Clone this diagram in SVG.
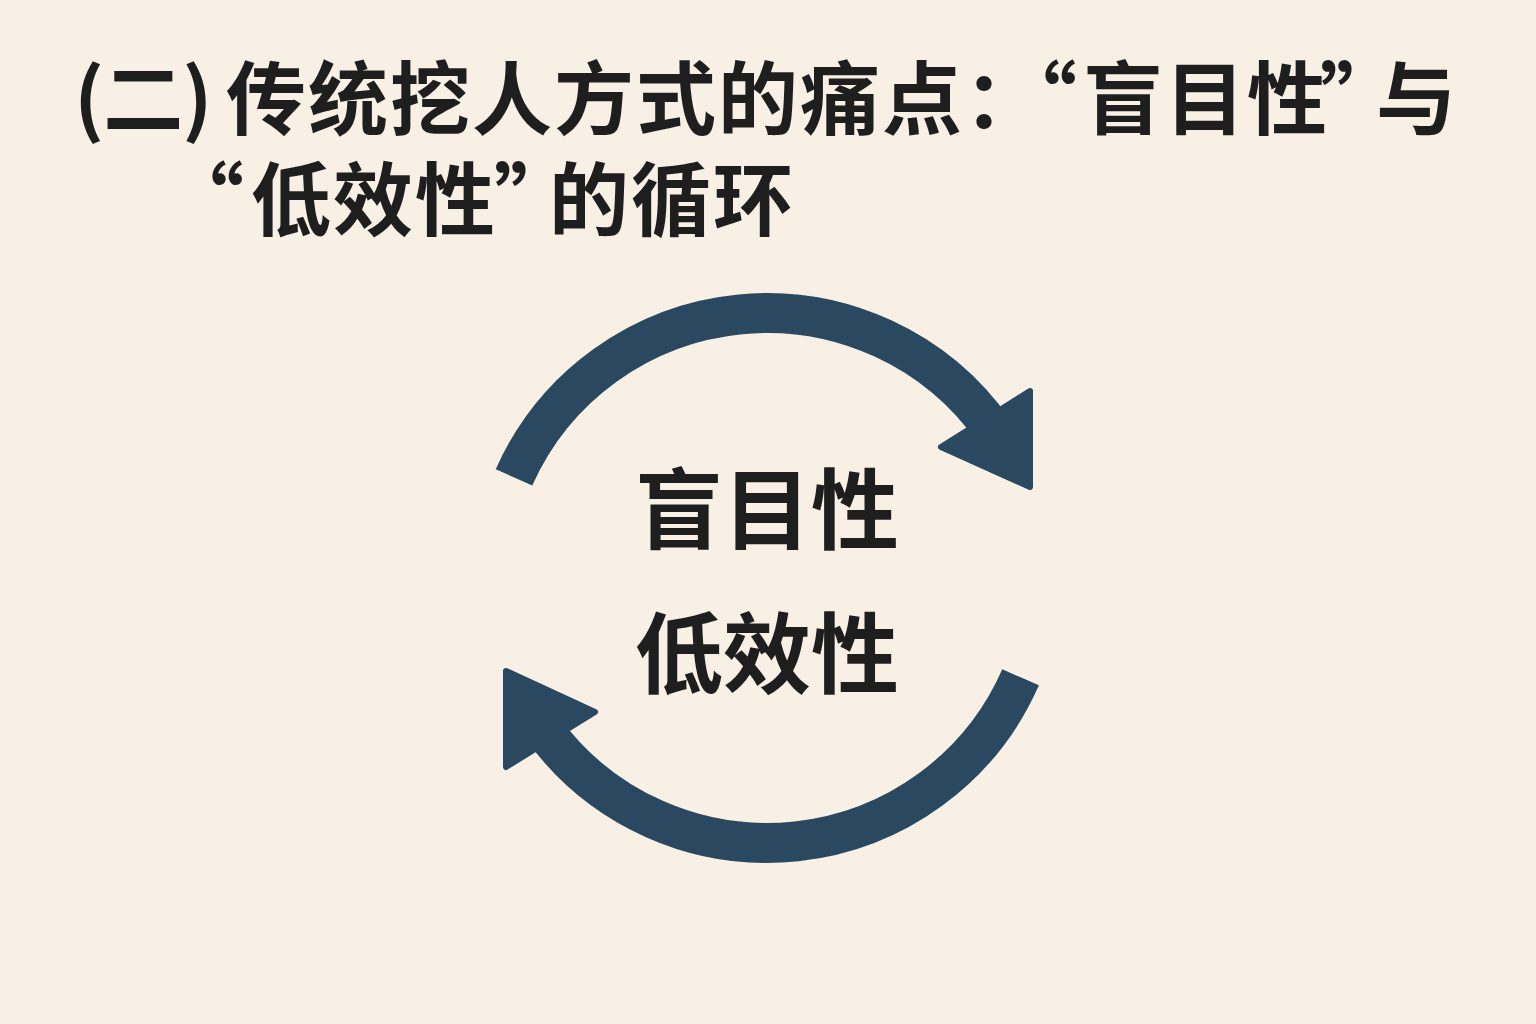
<svg xmlns="http://www.w3.org/2000/svg" width="1536" height="1024" viewBox="0 0 1536 1024">
<style>
.title{font-family:"Noto Sans CJK SC","Noto Sans",sans-serif;font-weight:700;font-size:80px;fill:#1e1e1e;letter-spacing:2px}
.label{font-family:"Noto Sans CJK SC","Noto Sans",sans-serif;font-weight:700;font-size:88px;fill:#1e1e1e;text-anchor:middle}
.arc{fill:none;stroke:#2b4861;stroke-width:40}
.head{fill:#2b4861;stroke:#2b4861;stroke-width:6;stroke-linejoin:round}
</style>
<rect width="1536" height="1024" fill="#f9f0e5"/>
<g id="title">
<text class="title" y="128"><tspan x="74" letter-spacing="-1">(二)</tspan><tspan x="226">传统挖人方式的痛点：</tspan><tspan x="997">“</tspan><tspan x="1083">盲目性</tspan><tspan x="1320">”</tspan><tspan x="1376">与</tspan></text>
<text class="title" y="229"><tspan x="164">“</tspan><tspan x="251">低效性</tspan><tspan x="494">”</tspan><tspan x="549">的循环</tspan></text>
</g>
<g id="connectors">
<path class="arc" d="M 514.0 477.3 A 277 277 0 0 1 993.9 431.1"/>
<polygon class="head" points="1030,391 941,447 1030,487"/>
<path class="arc" d="M 1020.6 677.3 A 277 277 0 0 1 542.9 728.8"/>
<polygon class="head" points="506,671 595,712 506,767"/>
</g>
<g id="node-blind">
<text class="label" x="767" y="542">盲目性</text>
</g>
<g id="node-low">
<text class="label" x="767" y="686">低效性</text>
</g>
</svg>
